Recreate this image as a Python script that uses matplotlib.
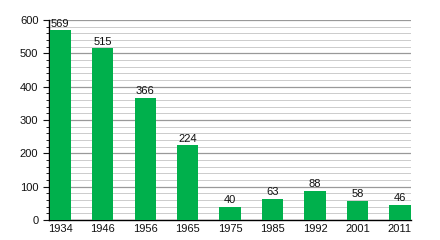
import matplotlib
matplotlib.use("Agg")
import matplotlib.pyplot as plt
import numpy as np

plt.rcParams["font.family"] = ["Liberation Sans", "DejaVu Sans"]

years = ["1934", "1946", "1956", "1965", "1975", "1985", "1992", "2001", "2011"]
values = [569, 515, 366, 224, 40, 63, 88, 58, 46]

fig = plt.figure(figsize=(4.4, 2.4), dpi=100)
ax = fig.add_axes([0.111, 0.083, 0.822, 0.834])
x = np.arange(len(years))
ax.bar(x, values, width=0.5, color="#00b04c", zorder=3)
for xi, v in zip(x, values):
    ax.text(xi, v + 5, str(v), ha="center", va="bottom", fontsize=8, color="#111111", zorder=4)

ax.set_xlim(-0.27, 8.25)
ax.set_ylim(0, 600)
ax.set_yticks(np.arange(0, 601, 100))
ax.set_yticks(np.arange(0, 601, 20), minor=True)
ax.set_xticks(x)
ax.set_xticklabels(years)
ax.yaxis.grid(True, which="major", color="#999999", linewidth=0.9, zorder=0)
ax.yaxis.grid(True, which="minor", color="#cccccc", linewidth=0.7, zorder=0)
ax.tick_params(axis="both", labelsize=8, colors="#111111")
ax.tick_params(axis="x", length=0, pad=3)
ax.tick_params(axis="y", which="major", length=4, width=0.8)
ax.tick_params(axis="y", which="minor", length=2, width=0.6)
ax.spines["top"].set_visible(False)
ax.spines["right"].set_visible(False)
ax.spines["left"].set_linewidth(1.0)
ax.spines["bottom"].set_linewidth(1.0)
fig.savefig("out.png", dpi=100)
